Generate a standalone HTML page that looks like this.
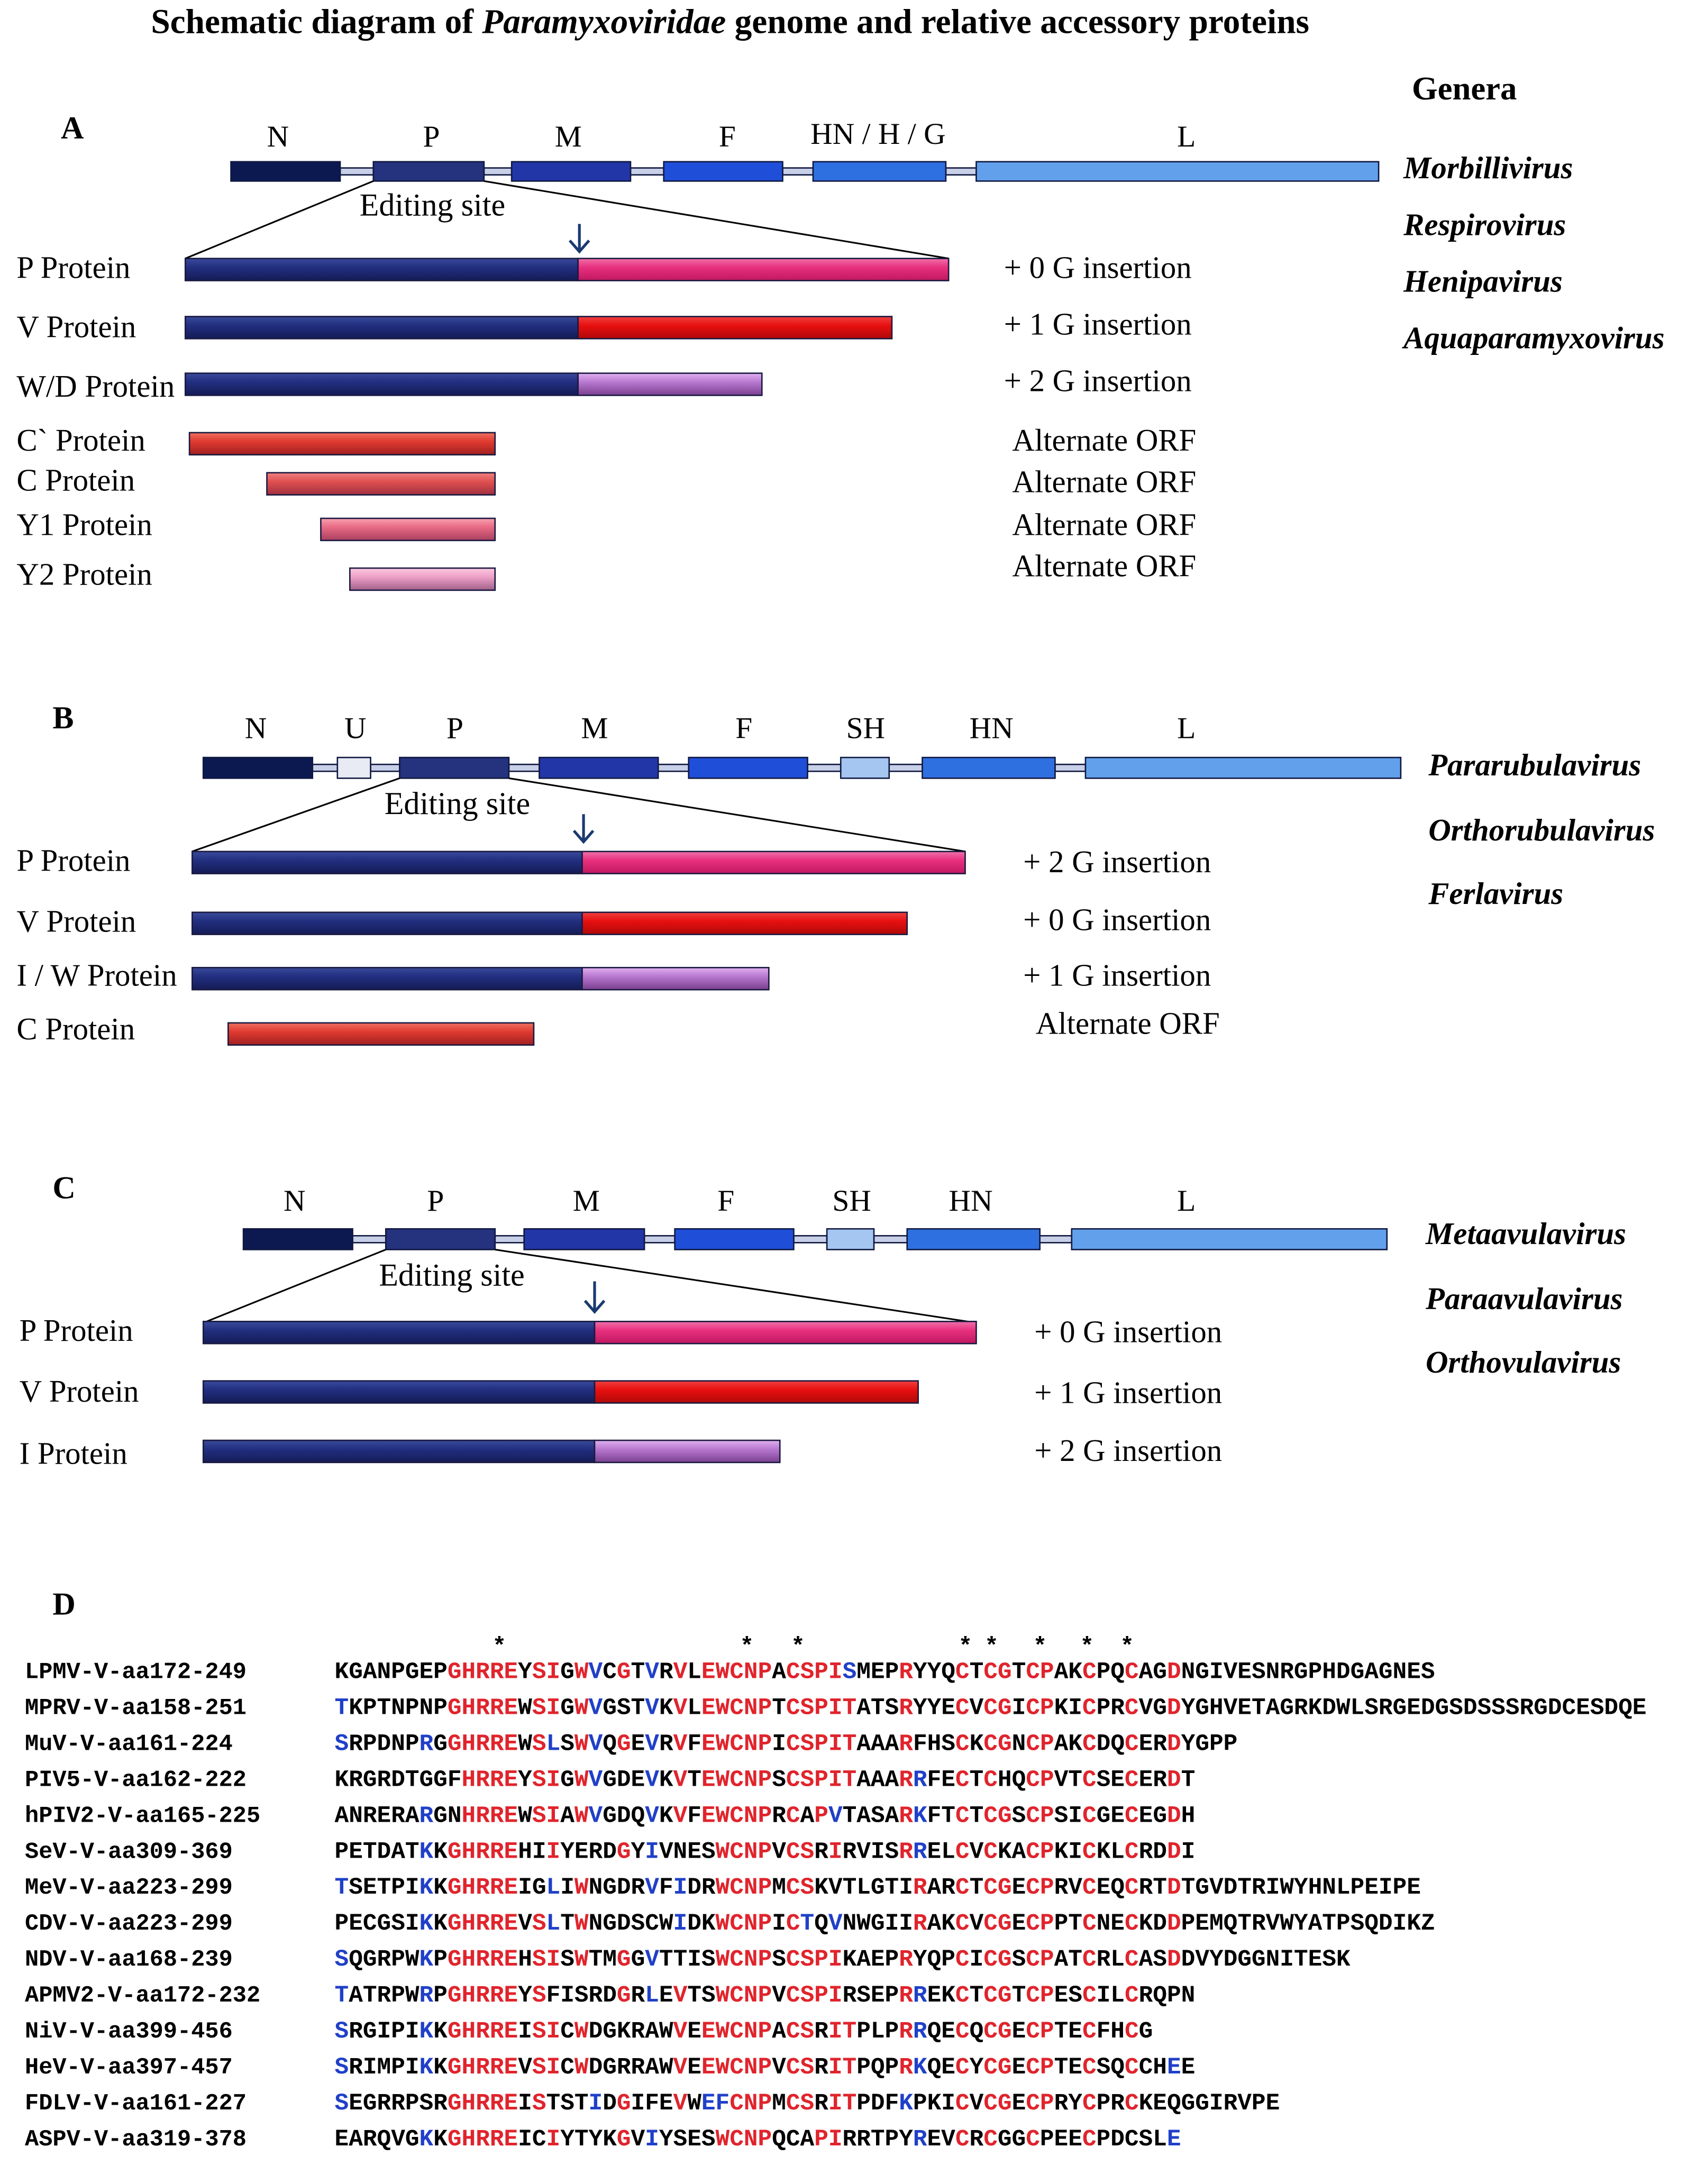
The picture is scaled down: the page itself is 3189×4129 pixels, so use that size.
<!DOCTYPE html>
<html><head><meta charset="utf-8">
<style>
html,body{margin:0;padding:0;background:#fff;}
svg{display:block;}
.s{font-family:"Liberation Serif",serif;}
.m{font-family:"Liberation Mono",monospace;font-weight:bold;}
.r{fill:#e0242c;}
.b{fill:#2040c8;}
</style></head><body>
<svg width="3189" height="4129" viewBox="0 0 1220 1580" preserveAspectRatio="none" xmlns="http://www.w3.org/2000/svg">
<defs>
<linearGradient id="gN" x1="0" y1="0" x2="0" y2="1"><stop offset="0" stop-color="#3a4a9a"/><stop offset=".4" stop-color="#222f80"/><stop offset="1" stop-color="#141c55"/></linearGradient>
<linearGradient id="gPk" x1="0" y1="0" x2="0" y2="1"><stop offset="0" stop-color="#f070a8"/><stop offset=".4" stop-color="#e8307f"/><stop offset="1" stop-color="#c01860"/></linearGradient>
<linearGradient id="gR" x1="0" y1="0" x2="0" y2="1"><stop offset="0" stop-color="#f04040"/><stop offset=".4" stop-color="#e81010"/><stop offset="1" stop-color="#b00808"/></linearGradient>
<linearGradient id="gPu" x1="0" y1="0" x2="0" y2="1"><stop offset="0" stop-color="#e0b0f0"/><stop offset=".4" stop-color="#b878d0"/><stop offset="1" stop-color="#7a4090"/></linearGradient>
<linearGradient id="gC1" x1="0" y1="0" x2="0" y2="1"><stop offset="0" stop-color="#f07060"/><stop offset=".4" stop-color="#e03a30"/><stop offset="1" stop-color="#a02020"/></linearGradient>
<linearGradient id="gC2" x1="0" y1="0" x2="0" y2="1"><stop offset="0" stop-color="#f08080"/><stop offset=".4" stop-color="#e05050"/><stop offset="1" stop-color="#a03040"/></linearGradient>
<linearGradient id="gY1" x1="0" y1="0" x2="0" y2="1"><stop offset="0" stop-color="#f8a0b0"/><stop offset=".4" stop-color="#e86a84"/><stop offset="1" stop-color="#a84060"/></linearGradient>
<linearGradient id="gY2" x1="0" y1="0" x2="0" y2="1"><stop offset="0" stop-color="#fbc8e0"/><stop offset=".4" stop-color="#eea0c8"/><stop offset="1" stop-color="#a06088"/></linearGradient>
</defs>
<rect width="1220" height="1580" fill="#fff"/>

<text class="s" x="528" y="24" font-size="25" font-weight="bold" text-anchor="middle">Schematic diagram of <tspan font-style="italic">Paramyxoviridae</tspan> genome and relative accessory proteins</text>

<!-- Genera -->
<g class="s" font-weight="bold">
<text x="1021" y="72" font-size="24">Genera</text>
<g font-style="italic" font-size="22.5">
<text x="1015" y="129">Morbillivirus</text>
<text x="1015" y="170">Respirovirus</text>
<text x="1015" y="211">Henipavirus</text>
<text x="1015" y="252">Aquaparamyxovirus</text>
<text x="1033" y="561">Pararubulavirus</text>
<text x="1033" y="608">Orthorubulavirus</text>
<text x="1033" y="654">Ferlavirus</text>
<text x="1031" y="900">Metaavulavirus</text>
<text x="1031" y="947">Paraavulavirus</text>
<text x="1031" y="993">Orthovulavirus</text>
</g>
<text x="44" y="100" font-size="23">A</text>
<text x="38" y="527" font-size="23">B</text>
<text x="38" y="867" font-size="23">C</text>
<text x="38" y="1168" font-size="23">D</text>
</g>

<!-- ===== Panel A ===== -->
<g class="s" font-size="22" text-anchor="middle">
<text x="201" y="106">N</text><text x="312" y="106">P</text><text x="411" y="106">M</text><text x="526" y="106">F</text><text x="635" y="104">HN / H / G</text><text x="858" y="106">L</text>
</g>
<g stroke="#101840" stroke-width="1">
<rect x="246" y="121.5" width="24" height="5" fill="#c8d0e8"/>
<rect x="350" y="121.5" width="20" height="5" fill="#c8d0e8"/>
<rect x="456" y="121.5" width="24" height="5" fill="#c8d0e8"/>
<rect x="566" y="121.5" width="22" height="5" fill="#c8d0e8"/>
<rect x="684" y="121.5" width="22" height="5" fill="#c8d0e8"/>
<rect x="167" y="117" width="79" height="14" fill="#0c1850"/>
<rect x="270" y="117" width="80" height="14" fill="#25327e"/>
<rect x="370" y="117" width="86" height="14" fill="#2236a8"/>
<rect x="480" y="117" width="86" height="14" fill="#1f4ed8"/>
<rect x="588" y="117" width="96" height="14" fill="#2f70e0"/>
<rect x="706" y="117" width="291" height="14" fill="#62a0ec"/>
</g>
<text class="s" x="260" y="156" font-size="23">Editing site</text>
<line x1="270" y1="131" x2="134" y2="187" stroke="#000" stroke-width="1.2"/>
<line x1="350" y1="131" x2="686" y2="187" stroke="#000" stroke-width="1.2"/>
<g stroke="#1a3a70" stroke-width="2" fill="none"><line x1="419" y1="162" x2="419" y2="182"/><polyline points="412,174 419,182 426,174"/></g>
<g stroke="#1a1a40" stroke-width="1">
<rect x="134" y="187" width="284" height="16" fill="url(#gN)"/><rect x="418" y="187" width="268" height="16" fill="url(#gPk)"/>
<rect x="134" y="229" width="284" height="16" fill="url(#gN)"/><rect x="418" y="229" width="227" height="16" fill="url(#gR)"/>
<rect x="134" y="270" width="284" height="16" fill="url(#gN)"/><rect x="418" y="270" width="133" height="16" fill="url(#gPu)"/>
<rect x="137" y="313" width="221" height="16" fill="url(#gC1)"/>
<rect x="193" y="342" width="165" height="16" fill="url(#gC2)"/>
<rect x="232" y="375" width="126" height="16" fill="url(#gY1)"/>
<rect x="253" y="411" width="105" height="16" fill="url(#gY2)"/>
</g>
<g class="s" font-size="22.5">
<text x="12" y="201">P Protein</text><text x="12" y="244">V Protein</text><text x="12" y="287">W/D Protein</text>
<text x="12" y="326">C` Protein</text><text x="12" y="355">C Protein</text><text x="12" y="387">Y1 Protein</text><text x="12" y="423">Y2 Protein</text>
<text x="726" y="201">+ 0 G insertion</text><text x="726" y="242">+ 1 G insertion</text><text x="726" y="283">+ 2 G insertion</text>
<text x="732" y="326">Alternate ORF</text><text x="732" y="356">Alternate ORF</text><text x="732" y="387">Alternate ORF</text><text x="732" y="417">Alternate ORF</text>
</g>

<!-- ===== Panel B ===== -->
<g class="s" font-size="22" text-anchor="middle">
<text x="185" y="534">N</text><text x="257" y="534">U</text><text x="329" y="534">P</text><text x="430" y="534">M</text><text x="538" y="534">F</text><text x="626" y="534">SH</text><text x="717" y="534">HN</text><text x="858" y="534">L</text>
</g>
<g stroke="#101840" stroke-width="1">
<rect x="226" y="553" width="18" height="5" fill="#c8d0e8"/>
<rect x="268" y="553" width="21" height="5" fill="#c8d0e8"/>
<rect x="368" y="553" width="22" height="5" fill="#c8d0e8"/>
<rect x="476" y="553" width="22" height="5" fill="#c8d0e8"/>
<rect x="584" y="553" width="24" height="5" fill="#c8d0e8"/>
<rect x="643" y="553" width="24" height="5" fill="#c8d0e8"/>
<rect x="763" y="553" width="22" height="5" fill="#c8d0e8"/>
<rect x="147" y="548" width="79" height="15" fill="#0c1850"/>
<rect x="244" y="548" width="24" height="15" fill="#e8eaf4"/>
<rect x="289" y="548" width="79" height="15" fill="#25327e"/>
<rect x="390" y="548" width="86" height="15" fill="#2236a8"/>
<rect x="498" y="548" width="86" height="15" fill="#1f4ed8"/>
<rect x="608" y="548" width="35" height="15" fill="#a4c6f0"/>
<rect x="667" y="548" width="96" height="15" fill="#2f70e0"/>
<rect x="785" y="548" width="228" height="15" fill="#62a0ec"/>
</g>
<text class="s" x="278" y="589" font-size="23">Editing site</text>
<line x1="289" y1="563" x2="139" y2="616" stroke="#000" stroke-width="1.2"/>
<line x1="368" y1="563" x2="698" y2="616" stroke="#000" stroke-width="1.2"/>
<g stroke="#1a3a70" stroke-width="2" fill="none"><line x1="422" y1="589" x2="422" y2="609"/><polyline points="415,601 422,609 429,601"/></g>
<g stroke="#1a1a40" stroke-width="1">
<rect x="139" y="616" width="282" height="16" fill="url(#gN)"/><rect x="421" y="616" width="277" height="16" fill="url(#gPk)"/>
<rect x="139" y="660" width="282" height="16" fill="url(#gN)"/><rect x="421" y="660" width="235" height="16" fill="url(#gR)"/>
<rect x="139" y="700" width="282" height="16" fill="url(#gN)"/><rect x="421" y="700" width="135" height="16" fill="url(#gPu)"/>
<rect x="165" y="740" width="221" height="16" fill="url(#gC1)"/>
</g>
<g class="s" font-size="22.5">
<text x="12" y="630">P Protein</text><text x="12" y="674">V Protein</text><text x="12" y="713">I / W Protein</text><text x="12" y="752">C Protein</text>
<text x="740" y="631">+ 2 G insertion</text><text x="740" y="673">+ 0 G insertion</text><text x="740" y="713">+ 1 G insertion</text><text x="749" y="748">Alternate ORF</text>
</g>

<!-- ===== Panel C ===== -->
<g class="s" font-size="22" text-anchor="middle">
<text x="213" y="876">N</text><text x="315" y="876">P</text><text x="424" y="876">M</text><text x="525" y="876">F</text><text x="616" y="876">SH</text><text x="702" y="876">HN</text><text x="858" y="876">L</text>
</g>
<g stroke="#101840" stroke-width="1">
<rect x="255" y="894" width="24" height="5" fill="#c8d0e8"/>
<rect x="358" y="894" width="21" height="5" fill="#c8d0e8"/>
<rect x="466" y="894" width="22" height="5" fill="#c8d0e8"/>
<rect x="574" y="894" width="24" height="5" fill="#c8d0e8"/>
<rect x="632" y="894" width="24" height="5" fill="#c8d0e8"/>
<rect x="752" y="894" width="23" height="5" fill="#c8d0e8"/>
<rect x="176" y="889" width="79" height="15" fill="#0c1850"/>
<rect x="279" y="889" width="79" height="15" fill="#25327e"/>
<rect x="379" y="889" width="87" height="15" fill="#2236a8"/>
<rect x="488" y="889" width="86" height="15" fill="#1f4ed8"/>
<rect x="598" y="889" width="34" height="15" fill="#a4c6f0"/>
<rect x="656" y="889" width="96" height="15" fill="#2f70e0"/>
<rect x="775" y="889" width="228" height="15" fill="#62a0ec"/>
</g>
<text class="s" x="274" y="930" font-size="23">Editing site</text>
<line x1="279" y1="904" x2="147" y2="957" stroke="#000" stroke-width="1.2"/>
<line x1="358" y1="904" x2="706" y2="957" stroke="#000" stroke-width="1.2"/>
<g stroke="#1a3a70" stroke-width="2" fill="none"><line x1="430" y1="927" x2="430" y2="949"/><polyline points="423,941 430,949 437,941"/></g>
<g stroke="#1a1a40" stroke-width="1">
<rect x="147" y="956" width="283" height="16" fill="url(#gN)"/><rect x="430" y="956" width="276" height="16" fill="url(#gPk)"/>
<rect x="147" y="999" width="283" height="16" fill="url(#gN)"/><rect x="430" y="999" width="234" height="16" fill="url(#gR)"/>
<rect x="147" y="1042" width="283" height="16" fill="url(#gN)"/><rect x="430" y="1042" width="134" height="16" fill="url(#gPu)"/>
</g>
<g class="s" font-size="22.5">
<text x="14" y="970">P Protein</text><text x="14" y="1014">V Protein</text><text x="14" y="1059">I Protein</text>
<text x="748" y="971">+ 0 G insertion</text><text x="748" y="1015">+ 1 G insertion</text><text x="748" y="1057">+ 2 G insertion</text>
</g>

<!-- ===== Panel D ===== -->
<g class="m" font-size="17">
<text x="356" y="1196">*</text><text x="535" y="1196">*</text><text x="572" y="1196">*</text>
<text x="693" y="1196">*</text><text x="712" y="1196">*</text><text x="747" y="1196">*</text><text x="781" y="1196">*</text><text x="810" y="1196">*</text>
</g>
<g class="m" font-size="16.7">
<text x="18" y="1214">LPMV-V-aa172-249</text>
<text x="18" y="1240">MPRV-V-aa158-251</text>
<text x="18" y="1266">MuV-V-aa161-224</text>
<text x="18" y="1292">PIV5-V-aa162-222</text>
<text x="18" y="1318">hPIV2-V-aa165-225</text>
<text x="18" y="1344">SeV-V-aa309-369</text>
<text x="18" y="1370">MeV-V-aa223-299</text>
<text x="18" y="1396">CDV-V-aa223-299</text>
<text x="18" y="1422">NDV-V-aa168-239</text>
<text x="18" y="1448">APMV2-V-aa172-232</text>
<text x="18" y="1474">NiV-V-aa399-456</text>
<text x="18" y="1500">HeV-V-aa397-457</text>
<text x="18" y="1526">FDLV-V-aa161-227</text>
<text x="18" y="1552">ASPV-V-aa319-378</text>
</g>
<g class="m" font-size="17">
<text x="242" y="1214">KGANPGEP<tspan class="r">GHRRE</tspan>Y<tspan class="r">SI</tspan>G<tspan class="r">W</tspan><tspan class="b">V</tspan>C<tspan class="r">G</tspan>T<tspan class="b">V</tspan>R<tspan class="r">V</tspan>L<tspan class="r">EWCNP</tspan>A<tspan class="r">CSPI</tspan><tspan class="b">S</tspan>MEP<tspan class="r">R</tspan>YYQ<tspan class="r">C</tspan>T<tspan class="r">CG</tspan>T<tspan class="r">CP</tspan>AK<tspan class="r">C</tspan>PQ<tspan class="r">C</tspan>AG<tspan class="r">D</tspan>NGIVESNRGPHDGAGNES</text>
<text x="242" y="1240"><tspan class="b">T</tspan>KPTNPNP<tspan class="r">GHRRE</tspan>W<tspan class="r">SI</tspan>G<tspan class="r">W</tspan><tspan class="b">V</tspan>GST<tspan class="b">V</tspan>K<tspan class="r">V</tspan>L<tspan class="r">EWCNP</tspan>T<tspan class="r">CSPIT</tspan>ATS<tspan class="r">R</tspan>YYE<tspan class="r">C</tspan>V<tspan class="r">CG</tspan>I<tspan class="r">CP</tspan>KI<tspan class="r">C</tspan>PR<tspan class="r">C</tspan>VG<tspan class="r">D</tspan>YGHVETAGRKDWLSRGEDGSDSSSRGDCESDQE</text>
<text x="242" y="1266"><tspan class="b">S</tspan>RPDNP<tspan class="b">R</tspan>G<tspan class="r">GHRRE</tspan>W<tspan class="r">S</tspan><tspan class="b">L</tspan>S<tspan class="r">W</tspan><tspan class="b">V</tspan>Q<tspan class="r">G</tspan>E<tspan class="b">V</tspan>R<tspan class="r">V</tspan>F<tspan class="r">EWCNP</tspan>I<tspan class="r">CSPIT</tspan>AAA<tspan class="r">R</tspan>FHS<tspan class="r">C</tspan>K<tspan class="r">CG</tspan>N<tspan class="r">CP</tspan>AK<tspan class="r">C</tspan>DQ<tspan class="r">C</tspan>ER<tspan class="r">D</tspan>YGPP</text>
<text x="242" y="1292">KRGRDTGGF<tspan class="r">HRRE</tspan>Y<tspan class="r">SI</tspan>G<tspan class="r">W</tspan><tspan class="b">V</tspan>GDE<tspan class="b">V</tspan>K<tspan class="r">V</tspan>T<tspan class="r">EWCNP</tspan>S<tspan class="r">CSPIT</tspan>AAA<tspan class="r">R</tspan><tspan class="b">R</tspan>FE<tspan class="r">C</tspan>T<tspan class="r">C</tspan>HQ<tspan class="r">CP</tspan>VT<tspan class="r">C</tspan>SE<tspan class="r">C</tspan>ER<tspan class="r">D</tspan>T</text>
<text x="242" y="1318">ANRERA<tspan class="b">R</tspan>GN<tspan class="r">HRRE</tspan>W<tspan class="r">SI</tspan>A<tspan class="r">W</tspan><tspan class="b">V</tspan>GDQ<tspan class="b">V</tspan>K<tspan class="r">V</tspan>F<tspan class="r">EWCNP</tspan>R<tspan class="r">C</tspan>A<tspan class="r">P</tspan><tspan class="b">V</tspan>TASA<tspan class="r">R</tspan><tspan class="b">K</tspan>FT<tspan class="r">C</tspan>T<tspan class="r">CG</tspan>S<tspan class="r">CP</tspan>SI<tspan class="r">C</tspan>GE<tspan class="r">C</tspan>EG<tspan class="r">D</tspan>H</text>
<text x="242" y="1344">PETDAT<tspan class="b">K</tspan>K<tspan class="r">GHRRE</tspan>HI<tspan class="r">I</tspan>YERD<tspan class="r">G</tspan>Y<tspan class="b">I</tspan>VNES<tspan class="r">WCNP</tspan>V<tspan class="r">CS</tspan>R<tspan class="r">I</tspan>RVIS<tspan class="r">R</tspan><tspan class="b">R</tspan>EL<tspan class="r">C</tspan>V<tspan class="r">C</tspan>KA<tspan class="r">CP</tspan>KI<tspan class="r">C</tspan>KL<tspan class="r">C</tspan>RD<tspan class="r">D</tspan>I</text>
<text x="242" y="1370"><tspan class="b">T</tspan>SETPI<tspan class="b">K</tspan>K<tspan class="r">GHRRE</tspan>IG<tspan class="b">L</tspan>I<tspan class="r">W</tspan>NGDR<tspan class="b">V</tspan>F<tspan class="b">I</tspan>DR<tspan class="r">WCNP</tspan>M<tspan class="r">CS</tspan>KVTLGTI<tspan class="r">R</tspan>AR<tspan class="r">C</tspan>T<tspan class="r">CG</tspan>E<tspan class="r">CP</tspan>RV<tspan class="r">C</tspan>EQ<tspan class="r">C</tspan>RT<tspan class="r">D</tspan>TGVDTRIWYHNLPEIPE</text>
<text x="242" y="1396">PECGSI<tspan class="b">K</tspan>K<tspan class="r">GHRRE</tspan>V<tspan class="r">S</tspan><tspan class="b">L</tspan>T<tspan class="r">W</tspan>NGDSCW<tspan class="b">I</tspan>DK<tspan class="r">WCNP</tspan>I<tspan class="r">C</tspan><tspan class="b">T</tspan>Q<tspan class="b">V</tspan>NWGII<tspan class="r">R</tspan>AK<tspan class="r">C</tspan>V<tspan class="r">CG</tspan>E<tspan class="r">CP</tspan>PT<tspan class="r">C</tspan>NE<tspan class="r">C</tspan>KD<tspan class="r">D</tspan>PEMQTRVWYATPSQDIKZ</text>
<text x="242" y="1422"><tspan class="b">S</tspan>QGRPW<tspan class="b">K</tspan>P<tspan class="r">GHRRE</tspan>H<tspan class="r">SI</tspan>S<tspan class="r">W</tspan>TM<tspan class="r">G</tspan>G<tspan class="b">V</tspan>TTIS<tspan class="r">WCNP</tspan>S<tspan class="r">CSPI</tspan>KAEP<tspan class="r">R</tspan>YQP<tspan class="r">C</tspan>I<tspan class="r">CG</tspan>S<tspan class="r">CP</tspan>AT<tspan class="r">C</tspan>RL<tspan class="r">C</tspan>AS<tspan class="r">D</tspan>DVYDGGNITESK</text>
<text x="242" y="1448"><tspan class="b">T</tspan>ATRPW<tspan class="b">R</tspan>P<tspan class="r">GHRRE</tspan>Y<tspan class="r">S</tspan>FISRD<tspan class="r">G</tspan>R<tspan class="b">L</tspan>E<tspan class="r">V</tspan>TS<tspan class="r">WCNP</tspan>V<tspan class="r">CSPI</tspan>RSEP<tspan class="r">R</tspan><tspan class="b">R</tspan>EK<tspan class="r">C</tspan>T<tspan class="r">CG</tspan>T<tspan class="r">CP</tspan>ES<tspan class="r">C</tspan>IL<tspan class="r">C</tspan>RQPN</text>
<text x="242" y="1474"><tspan class="b">S</tspan>RGIPI<tspan class="b">K</tspan>K<tspan class="r">GHRRE</tspan>I<tspan class="r">SI</tspan>C<tspan class="r">W</tspan>DGKRAW<tspan class="r">V</tspan>E<tspan class="r">EWCNP</tspan>A<tspan class="r">CS</tspan>R<tspan class="r">IT</tspan>PLP<tspan class="r">R</tspan><tspan class="b">R</tspan>QE<tspan class="r">C</tspan>Q<tspan class="r">CG</tspan>E<tspan class="r">CP</tspan>TE<tspan class="r">C</tspan>FH<tspan class="r">C</tspan>G</text>
<text x="242" y="1500"><tspan class="b">S</tspan>RIMPI<tspan class="b">K</tspan>K<tspan class="r">GHRRE</tspan>V<tspan class="r">SI</tspan>C<tspan class="r">W</tspan>DGRRAW<tspan class="r">V</tspan>E<tspan class="r">EWCNP</tspan>V<tspan class="r">CS</tspan>R<tspan class="r">IT</tspan>PQP<tspan class="r">R</tspan><tspan class="b">K</tspan>QE<tspan class="r">C</tspan>Y<tspan class="r">CG</tspan>E<tspan class="r">CP</tspan>TE<tspan class="r">C</tspan>SQ<tspan class="r">C</tspan>CH<tspan class="b">E</tspan>E</text>
<text x="242" y="1526"><tspan class="b">S</tspan>EGRRPSR<tspan class="r">GHRRE</tspan>I<tspan class="r">S</tspan>TST<tspan class="b">I</tspan>D<tspan class="r">G</tspan>IFE<tspan class="r">V</tspan>W<tspan class="b">EF</tspan><tspan class="r">CNP</tspan>M<tspan class="r">CS</tspan>R<tspan class="r">IT</tspan>PDF<tspan class="b">K</tspan>PKI<tspan class="r">C</tspan>V<tspan class="r">CG</tspan>E<tspan class="r">CP</tspan>RY<tspan class="r">C</tspan>PR<tspan class="r">C</tspan>KEQGGIRVPE</text>
<text x="242" y="1552">EARQVG<tspan class="b">K</tspan>K<tspan class="r">GHRRE</tspan>IC<tspan class="r">I</tspan>YTYK<tspan class="r">G</tspan>V<tspan class="b">I</tspan>YSES<tspan class="r">WCNP</tspan>QCA<tspan class="r">PI</tspan>RRTPY<tspan class="b">R</tspan>EV<tspan class="r">C</tspan>R<tspan class="r">C</tspan>GG<tspan class="r">C</tspan>PEE<tspan class="r">C</tspan>PDCSL<tspan class="b">E</tspan></text>
</g>
</svg>
</body></html>
